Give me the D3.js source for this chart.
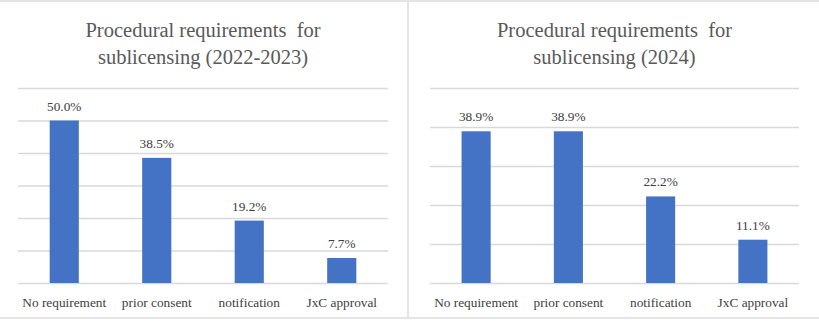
<!DOCTYPE html>
<html>
<head>
<meta charset="utf-8">
<script src="https://cdn.jsdelivr.net/npm/d3@7"></script>
<style>
  html, body { margin: 0; padding: 0; background: #fff; }
  svg { display: block; }
  text { font-family: "Liberation Serif", "Times New Roman", serif; }
</style>
</head>
<body>
<svg id="chart" width="819" height="323"></svg>
<script>
const categories = ['No requirement', 'prior consent', 'notification', 'JxC approval']
const values2223 = [50.0, 38.5, 19.2, 7.7]
const values2024 = [38.9, 38.9, 22.2, 11.1]
const ticks2223 = [0, 10, 20, 30, 40, 50, 60]
const ticks2024 = [0, 10, 20, 30, 40, 50]

const svg = d3.select('#chart')
const plotTop = 88
const plotBottom = 283
const barColor = '#4472c4'
const gridColor = '#d9d9d9'

// panel frame lines
svg.append('rect').attr('x', 0).attr('y', 0).attr('width', 819).attr('height', 2).attr('fill', '#e4e4e4')
svg.append('rect').attr('x', 0).attr('y', 317).attr('width', 819).attr('height', 2).attr('fill', '#e4e4e4')
svg.append('rect').attr('x', 407).attr('y', 0).attr('width', 2).attr('height', 319).attr('fill', '#e4e4e4')

function panel(left, right, title, values, ticks) {
  const g = svg.append('g')
  const x = d3.scaleBand().domain(categories).range([left, right]).padding(0)
  const y = d3.scaleLinear().domain([0, d3.max(ticks)]).range([plotBottom, plotTop])
  const bw = x.bandwidth() * 0.315

  // gridlines
  g.append('g')
    .attr('transform', `translate(${left},0)`)
    .call(d3.axisLeft(y).tickValues(ticks).tickSize(-(right - left)).tickFormat(''))
    .call((a) => a.select('.domain').remove())
    .call((a) => a.selectAll('line').attr('stroke', gridColor).attr('stroke-width', 1.3))

  g.selectAll('rect.bar')
    .data(values)
    .join('rect')
    .attr('class', 'bar')
    .attr('x', (d, i) => x(categories[i]) + (x.bandwidth() - bw) / 2)
    .attr('width', bw)
    .attr('y', (d) => y(d))
    .attr('height', (d) => y(0) - y(d))
    .attr('fill', barColor)

  g.selectAll('text.val')
    .data(values)
    .join('text')
    .attr('class', 'val')
    .attr('x', (d, i) => x(categories[i]) + x.bandwidth() / 2)
    .attr('y', (d) => y(d) - 10)
    .attr('text-anchor', 'middle')
    .attr('font-size', 13.3)
    .attr('fill', '#404040')
    .text((d) => d.toFixed(1) + '%')

  // category axis
  g.append('g')
    .attr('transform', `translate(0,${plotBottom})`)
    .call(d3.axisBottom(x).tickSize(0).tickPadding(15))
    .call((a) => a.select('.domain').remove())
    .call((a) => a.selectAll('text')
      .attr('font-family', '"Liberation Serif", serif')
      .attr('font-size', 13.3)
      .attr('fill', '#404040'))

  const cx = (left + right) / 2
  const t = g.append('text')
    .attr('text-anchor', 'middle')
    .attr('font-size', 20.5)
    .attr('fill', '#595959')
    .style('white-space', 'pre')
  t.append('tspan').attr('x', cx).attr('y', 37).text(title[0])
  t.append('tspan').attr('x', cx).attr('y', 64).text(title[1])
}

panel(18, 388, ['Procedural requirements  for', 'sublicensing (2022-2023)'], values2223, ticks2223)
panel(430, 799, ['Procedural requirements  for', 'sublicensing (2024)'], values2024, ticks2024)
</script>
</body>
</html>
